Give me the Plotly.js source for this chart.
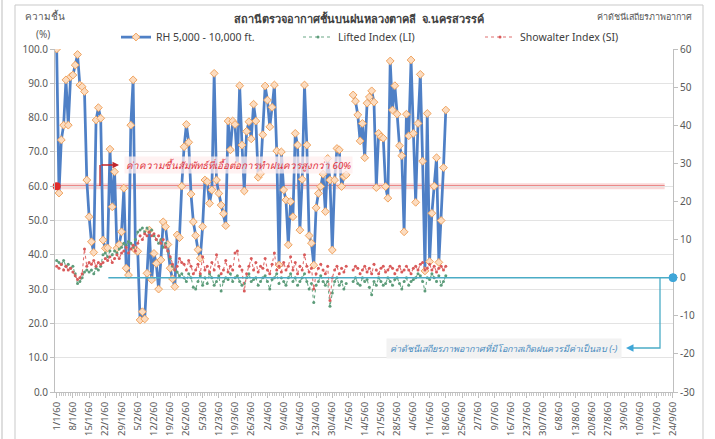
<!DOCTYPE html>
<html><head><meta charset="utf-8">
<script src="https://cdn.plot.ly/plotly-3.0.1.min.js"></script>
<style>html,body{margin:0;padding:0;background:#fff;overflow:hidden}#chart{width:715px;height:439px}</style>
</head><body><div id="chart"></div>
<script>
// ---- DATA (daily, starting 1/1/60 = 2017-01-01) ----
const START_DATE = '2017-01-01';
const RH = [100,58,73.5,77.8,91,77.8,91.9,92.4,95.3,98.4,
89.5,89,87.6,61.8,51.1,43.8,40.7,79.3,82.9,79.8,
44.3,41.9,42,70.8,54,64.2,41.9,43,46.7,59.4,
36.1,34.1,77.8,91,41.4,41,21,23.4,21.3,34.6,
47.2,32.7,40.4,37.5,30,38.5,49.6,48.2,43,36.1,
33,30.7,45.8,45,60,71.5,78,72.8,57.7,49.6,
45.6,41.5,39,48.2,61.8,61.3,55,58.9,92.9,61.8,
57.9,54.5,52,48.5,79,70.6,79,78,66,89.3,
72,58.6,76,78.8,73.8,83.9,79,62.6,63.6,75,
89.2,85.1,77.3,83,89.5,70.3,37,70,58.9,56,
42.9,55.5,51.1,75.4,72,47.2,62,89.5,72,45.6,
43.4,37,53.7,57.9,59.9,63.5,52.6,68.1,61.8,41.4,
61.8,71,70.6,59.9,62.8,63.3,null,null,86.6,84.8,
80.8,73.2,78.3,68.3,84.2,86,87.8,84.5,59.6,75.4,
74.4,74,59.9,56.5,96.5,82.2,89.3,81,71.8,68.9,
46.7,81,74.7,96.8,75.4,55.3,78.3,92.6,67.3,35.3,
81.2,38,52.1,60,68.3,37.8,50,65.4,82.2];
const LI = [4.5,4,3.5,4.5,3,3.5,2.5,3,1,-1.5,
-1,0,1.5,2,1.5,2,1,2.5,2,3,
6,6.5,5.5,7,6,7,6.5,7.5,8,9,
8.5,9.5,9,8,10,12,12.5,13,12,13,
12,12.5,11,10,9,10,8,9,7,5,
3,2,1.5,0.5,1,0,-1,1,0,-2.5,
-3,-1,0.5,-2,0,-1.5,1,0,-2,-1,
0.5,-3.5,-1,0,-0.5,1,-1,0,0.5,-1,
-2,-1.5,0,1,-1,-0.5,0,-2,-1,0,
0.5,-1,-3,-0.5,0,1,-1.5,0,-1,-2,
0,1,-1,0,-2,-1,0,1,-1,-3,
-1.5,-6.5,-2,-1,0.5,-1,-2,-1,-7.5,-4,
-1,0,-2,-1,-3,-1.5,null,null,
-1,0,-1.5,-2,0,-1,-0.5,-2.5,-4.5,-1,-2,0,
-1,-2,-1.5,0,-1,-2,-0.5,0,-1.5,-3,
-1,0,-2,-1,-0.5,0,1,0.5,-1,-3.5,
0,-0.5,1,0,-1,0.5,-2,-1,0.5];
const SI = [3,2.5,3.5,2,3,2,2.5,1.5,0.5,-0.5,
0,1,7.5,3,4,3.5,4.5,3,4,3.5,
4,5,4.5,5.5,4,5,6,5,6.5,7,
8,6.5,7.5,8.5,7,9,11,10,11.5,11,
12,11,11.5,10,11,9,10,8,7,5.5,
3.5,2,3,5,4,3.5,2,4.5,3,1,
2,3.5,1,5.5,2,3,1.5,4,2,6,
3,1,2,4.5,1.5,3,2,6.5,7,3,
2,-3.5,1,3,5,2,4,1.5,3,2.5,
5,2,1,3.5,6.5,2,3,1.5,4,2,
3,5.5,2,4,1,3,2,6,3,1.5,
2.5,-3,1,2.5,3.5,2,1,3,-6,0,
2,3,1,2.5,1.5,3,null,null,
2,3,2.5,1,2,3,1.5,2.5,1,3.5,2,1,
2.5,3,1.5,2,3,2.5,1,2,3,1.5,
2,3,2,1,2.5,3,2,3.5,4,2,
2.5,3.5,2,3,1.5,2.5,3,2,3];
const X_TICK_LABELS = ['1/1/60','8/1/60','15/1/60','22/1/60','29/1/60','5/2/60','12/2/60','19/2/60','26/2/60',
'5/3/60','12/3/60','19/3/60','26/3/60','2/4/60','9/4/60','16/4/60','23/4/60','30/4/60','7/5/60','14/5/60',
'21/5/60','28/5/60','4/6/60','11/6/60','18/6/60','25/6/60','2/7/60','9/7/60','16/7/60','23/7/60','30/7/60',
'6/8/60','13/8/60','20/8/60','27/8/60','3/9/60','10/9/60','17/9/60','24/9/60'];
const Y_LEFT_TICKS = [0,10,20,30,40,50,60,70,80,90,100];
const Y_RIGHT_TICKS = [-30,-20,-10,0,10,20,30,40,50,60];
const Y_RIGHT_LABELS = ['-30','-20','-10','0','10','20','30','40','50','60'];
const RH_THRESHOLD = 60;
const INDEX_THRESHOLD = 0;

// ---- helpers ----
const DAY = 86400000;
const T0 = Date.parse(START_DATE + 'T00:00:00Z');
function dateAt(d){ const t = new Date(T0 + d*DAY); return t.toISOString().replace('T',' ').replace('Z','').slice(0,19); }
const DATES = RH.map((_, i) => dateAt(i));
const TICKVALS = X_TICK_LABELS.map((_, i) => dateAt(i*7));

const PL = 55, PR = 673, PT = 49, PB = 392;
const px = x => (x - PL) / (PR - PL);
const py = y => (PB - y) / (PB - PT);

const FONT = '"Noto Sans", "Open Sans", sans-serif';
const GRAY = '#595959';
const BLUE = '#4f80c6';
const CYAN = '#4bacc6';

const traces = [
  {x: DATES, y: RH, name: 'RH 5,000 - 10,000 ft.', type: 'scatter', mode: 'lines+markers',
   line: {color: BLUE, width: 2.75}, connectgaps: false,
   marker: {symbol: 'diamond', size: 6, color: '#fcdcc0', line: {color: '#f0a35e', width: 1}}},
  {x: DATES, y: LI, name: 'Lifted Index (LI)', type: 'scatter', mode: 'lines+markers', yaxis: 'y2',
   line: {color: '#6aa886', width: 1.1, dash: 'dot'},
   marker: {symbol: 'circle', size: 3, color: '#5d9c7a'}},
  {x: DATES, y: SI, name: 'Showalter Index (SI)', type: 'scatter', mode: 'lines+markers', yaxis: 'y2',
   line: {color: '#e07070', width: 1.1, dash: 'dot'},
   marker: {symbol: 'circle', size: 3, color: '#d95a5a'}},
  {x: [DATES[0]], y: [RH_THRESHOLD], type: 'scatter', mode: 'markers', showlegend: false, hoverinfo: 'skip',
   marker: {size: 8, color: '#e02b2b'}, cliponaxis: false}
];

const shapes = [
  // outer frame
  {type: 'rect', xref: 'paper', yref: 'paper', x0: px(15), x1: px(703), y0: py(445), y1: py(5),
   line: {color: '#c9c9c9', width: 1}, layer: 'below'},
  {type: 'line', xref: 'paper', yref: 'paper', x0: px(2), x1: px(2), y0: py(445), y1: py(-5),
   line: {color: '#bdbdbd', width: 1}},
  // 60% threshold line with soft glow
  {type: 'line', xref: 'x', yref: 'y', x0: DATES[0], x1: dateAt(262.5), y0: RH_THRESHOLD, y1: RH_THRESHOLD,
   line: {color: 'rgba(240,140,140,0.35)', width: 6}, layer: 'below'},
  {type: 'line', xref: 'x', yref: 'y', x0: DATES[0], x1: dateAt(262.5), y0: RH_THRESHOLD, y1: RH_THRESHOLD,
   line: {color: '#d93a3a', width: 1.3}, layer: 'below'},
  // red arrow vertical part
  {type: 'line', xref: 'paper', yref: 'paper', x0: px(100), x1: px(100), y0: py(186), y1: py(165),
   line: {color: '#c0262d', width: 1.3}},
  // index zero line (secondary axis)
  {type: 'line', xref: 'x', yref: 'y2', x0: dateAt(22.3), x1: dateAt(266.1), y0: INDEX_THRESHOLD, y1: INDEX_THRESHOLD,
   line: {color: CYAN, width: 1.5}},
  {type: 'circle', xref: 'paper', yref: 'y2', xsizemode: 'pixel', ysizemode: 'pixel', xanchor: 1, yanchor: INDEX_THRESHOLD,
   x0: -4, x1: 4, y0: -4, y1: 4, fillcolor: '#3fa6d8', line: {color: '#3fa6d8', width: 1}},
  // connector bracket
  {type: 'path', xref: 'paper', yref: 'paper',
   path: `M ${px(660)} ${py(277.7)} L ${px(660)} ${py(348)} L ${px(632)} ${py(348)}`,
   line: {color: CYAN, width: 1.3}}
];

const annotations = [
  {text: 'สถานีตรวจอากาศชั้นบนฝนหลวงตาคลี  จ.นครสวรรค์', xref: 'paper', yref: 'paper',
   x: px(359), y: py(18), xanchor: 'center', yanchor: 'middle', showarrow: false,
   font: {family: FONT, size: 11, color: '#404040', weight: 'bold'}},
  {text: 'ความชื้น', xref: 'paper', yref: 'paper', x: px(45), y: py(16), xanchor: 'center', yanchor: 'middle',
   showarrow: false, font: {family: FONT, size: 10, color: GRAY}},
  {text: '(%)', xref: 'paper', yref: 'paper', x: px(43), y: py(34), xanchor: 'center', yanchor: 'middle',
   showarrow: false, font: {family: FONT, size: 10, color: GRAY}},
  {text: 'ค่าดัชนีเสถียรภาพอากาศ', xref: 'paper', yref: 'paper', x: px(694), y: py(16), xanchor: 'right', yanchor: 'middle',
   showarrow: false, font: {family: FONT, size: 9, color: GRAY}},
  {text: '<i>ค่าความชื้นสัมพัทธ์ที่เอื้อต่อการทำฝนควรสูงกว่า 60%</i>', xref: 'paper', yref: 'paper',
   x: px(124), y: py(165), xanchor: 'left', yanchor: 'middle', showarrow: false,
   bgcolor: 'rgba(255,238,238,0.75)', borderpad: 1,
   font: {family: FONT, size: 9.8, color: '#e0303a'}},
  {text: '', xref: 'paper', yref: 'paper', x: px(119), y: py(165), ax: -19, ay: 0,
   showarrow: true, arrowhead: 2, arrowsize: 1, arrowwidth: 1.3, arrowcolor: '#c0262d'},
  {text: '<i>ค่าดัชนีเสถียรภาพอากาศที่มีโอกาสเกิดฝนควรมีค่าเป็นลบ (-)</i>', xref: 'paper', yref: 'paper',
   x: px(386), y: py(348), xanchor: 'left', yanchor: 'middle', showarrow: false,
   bgcolor: '#f2f2f2', borderpad: 3,
   font: {family: FONT, size: 9, color: '#4a8cc0'}},
  {text: '', xref: 'paper', yref: 'paper', x: px(626), y: py(348), ax: 8, ay: 0,
   showarrow: true, arrowhead: 2, arrowsize: 1, arrowwidth: 1.5, arrowcolor: '#3fa6d8'}
];

const layout = {
  width: 715, height: 439,
  margin: {l: PL, r: 715 - PR, t: PT, b: 439 - PB, pad: 0},
  paper_bgcolor: '#ffffff', plot_bgcolor: '#ffffff',
  font: {family: FONT, size: 10, color: GRAY},
  showlegend: true,
  legend: {orientation: 'h', x: px(116), y: py(37), xanchor: 'left', yanchor: 'middle',
    font: {family: FONT, size: 10.5, color: '#404040'}, bgcolor: 'rgba(0,0,0,0)',
    entrywidth: 137, entrywidthmode: 'pixels', itemwidth: 30},
  xaxis: {type: 'date', range: [dateAt(-0.73), dateAt(266.1)],
    tickmode: 'array', tickvals: TICKVALS, ticktext: X_TICK_LABELS, tickangle: -90,
    tickfont: {family: FONT, size: 9.5, color: GRAY},
    ticks: 'outside', ticklen: 5, tickcolor: '#bfbfbf',
    minor: {tickmode: 'linear', tick0: START_DATE, dtick: DAY, ticks: 'outside', ticklen: 3, tickcolor: '#c8c8c8', showgrid: false},
    showline: true, linecolor: '#bfbfbf', linewidth: 1, showgrid: false, zeroline: false, automargin: false, fixedrange: true},
  yaxis: {range: [0, 100], tickvals: Y_LEFT_TICKS, tickformat: '.1f', tickmode: 'array',
    showgrid: true, gridcolor: '#e3e3e3', gridwidth: 1,
    showline: true, linecolor: '#bfbfbf', ticks: 'outside', ticklen: 4, tickcolor: '#bfbfbf',
    tickfont: {family: FONT, size: 10, color: GRAY}, zeroline: false, automargin: false, fixedrange: true},
  yaxis2: {range: [-30, 60], overlaying: 'y', side: 'right', tickmode: 'array', tickvals: Y_RIGHT_TICKS, ticktext: Y_RIGHT_LABELS,
    showgrid: false, showline: true, linecolor: '#bfbfbf', ticks: 'outside', ticklen: 4, tickcolor: '#bfbfbf',
    tickfont: {family: FONT, size: 10, color: GRAY}, zeroline: false, automargin: false, fixedrange: true},
  shapes: shapes,
  annotations: annotations
};

Plotly.newPlot('chart', traces, layout, {displayModeBar: false, staticPlot: true});
</script>
</body></html>
